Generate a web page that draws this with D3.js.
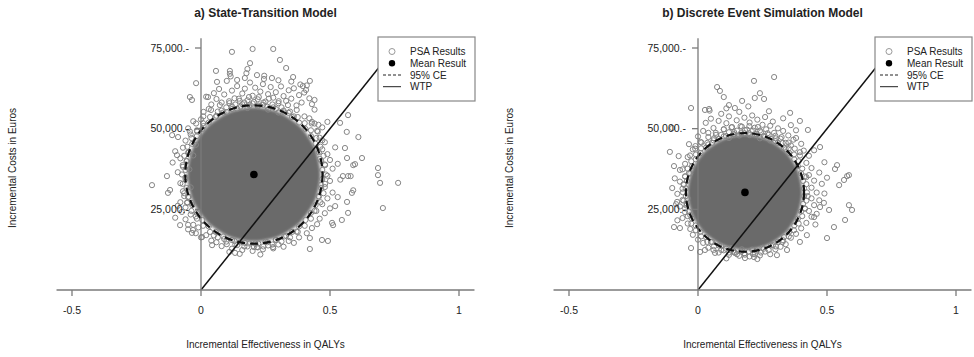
<!DOCTYPE html>
<html>
<head>
<meta charset="utf-8">
<script src="https://cdn.jsdelivr.net/npm/d3@7"></script>
<style>
  html, body { margin: 0; padding: 0; background: #fff; }
  svg { display: block; font-family: "Liberation Sans", Arial, sans-serif; }
</style>
</head>
<body>
<svg id="chart" width="974" height="357"></svg>
<script>
// Incremental QALYs (x) and incremental costs in thousand euros (y).
const titles = ["a) State-Transition Model", "b) Discrete Event Simulation Model"];
const xTicks = [-0.5, 0, 0.5, 1];
const xTickLabels = ["-0.5", "0", "0.5", "1"];
const yTicks = [25, 50, 75];
const yTickLabels = ["25,000.-", "50,000.-", "75,000.-"];
const legendLabels = ["PSA Results", "Mean Result", "95% CE", "WTP"];
const wtpPerQaly = 100; // k€ per QALY

// State-transition model
const meanA = [0.205, 35.8];
const ceRadiusA = [0.266, 21.45];
// outline of the dense bulk of PSA runs
const coreA = [[0.463,35.8],[0.443,43.8],[0.387,50.5],[0.304,55.0],[0.205,56.6],[0.106,55.0],[0.023,50.5],[-0.033,43.8],
  [-0.053,35.8],[-0.033,27.8],[0.023,21.1],[0.106,16.6],[0.205,15.0],[0.304,16.6],[0.387,21.1],[0.443,27.8]];
// individually visible PSA runs
const psaA = [
  [0.120,73.8],[0.200,74.7],[0.280,74.7],[0.306,71.3],[0.190,70.3],[0.330,68.8],[0.180,68.5],[0.176,67.2],[0.058,67.9],
  [0.112,67.9],[0.112,67.0],[0.217,66.6],[0.244,65.4],[0.275,65.7],[0.357,66.0],[-0.019,64.1],[0.062,64.5],[0.140,65.1],
  [-0.043,59.8],[-0.035,58.9],[0.027,59.8],[0.422,64.8],[0.395,63.2],[0.407,62.0],[0.440,58.9],[0.570,54.2],[0.539,51.8],
  [0.610,47.4],[0.565,49.0],[0.490,52.1],[-0.112,48.0],[-0.089,47.4],[-0.093,41.8],[-0.132,35.3],[0.558,44.0],[0.566,40.9],
  [0.590,38.7],[0.597,39.0],[0.686,37.8],[0.686,35.6],[0.624,40.9],[-0.190,32.5],[-0.128,30.1],[0.694,33.2],[0.764,33.2],
  [0.705,25.4],[0.550,35.3],[0.570,35.3],[0.580,35.3],[0.585,30.1],[0.566,27.3],[0.570,23.9],[0.546,21.7],[0.508,20.8],
  [0.512,20.1],[0.422,16.1],[0.422,12.7],[0.469,15.5],[0.492,15.2],[-0.035,17.7],[0.043,13.9],[0.004,16.4],[0.132,11.5],
  [0.217,13.3],[0.279,13.3],[-0.074,24.2],[-0.081,20.1],[-0.054,27.0],[-0.050,20.2],[-0.031,18.6],[0.590,30.9],
  [0.04,57.5],[0.06,59.2],[0.08,58.1],[0.09,60.6],[0.11,57.9],[0.12,61.8],[0.13,59.4],[0.14,63.2],[0.15,58.6],[0.16,60.9],
  [0.17,62.4],[0.18,58.8],[0.19,64.3],[0.20,60.2],[0.21,62.7],[0.22,59.1],[0.23,61.5],[0.24,63.8],[0.25,58.4],[0.26,60.7],
  [0.27,62.9],[0.28,59.6],[0.29,61.3],[0.30,57.9],[0.31,63.1],[0.32,60.1],[0.33,58.6],[0.34,61.9],[0.35,59.3],[0.36,62.5],
  [0.37,57.2],[0.38,60.4],[0.39,58.1],[0.40,61.2],[0.07,62.3],[0.10,64.8],[0.05,61.0],[0.02,59.9],[0.03,56.1],[0.01,55.2],
  [0.115,66.2],[0.17,65.7],[0.245,66.4],[0.30,65.0],[0.35,64.6],[0.385,63.7],[0.41,63.4],[0.42,59.4],[0.43,57.6],[0.44,55.9],
  [0.08,55.6],[0.12,56.9],[0.16,57.6],[0.20,57.8],[0.24,57.4],[0.28,56.6],[0.32,55.6],[0.36,53.8],[0.14,56.2],[0.18,56.4],
  [0.22,56.9],[0.26,55.9],[0.30,55.0],[0.10,55.1],[0.06,54.0],[0.34,54.9],
  [-0.03,52.3],[-0.05,50.1],[-0.04,48.2],[-0.06,46.3],[-0.07,44.1],[-0.05,42.6],[-0.08,40.8],[-0.07,38.2],[-0.09,36.5],
  [-0.06,34.9],[-0.08,33.1],[-0.07,30.6],[-0.05,28.8],[-0.08,27.2],[-0.06,25.6],[-0.04,23.4],[-0.06,21.9],[-0.03,20.2],
  [-0.05,18.8],[-0.02,17.6],[0.00,16.3],[-0.01,19.4],[-0.02,45.0],[-0.03,41.7],[-0.045,37.4],[-0.04,31.8],[-0.035,26.9],
  [-0.02,22.8],[-0.10,43.0],[-0.11,39.5],[-0.12,31.0],[-0.09,26.1],[-0.10,22.4],[0.00,52.9],[0.01,50.8],[-0.015,49.1],
  [-0.055,39.9],[-0.065,29.1],
  [0.02,17.0],[0.04,15.3],[0.06,14.8],[0.08,13.6],[0.10,14.2],[0.12,12.8],[0.14,13.9],[0.16,12.4],[0.18,13.5],[0.20,12.1],
  [0.22,13.2],[0.24,12.6],[0.26,13.8],[0.28,12.9],[0.30,14.1],[0.32,13.4],[0.34,15.2],[0.36,14.6],[0.38,16.3],[0.05,16.9],
  [0.09,15.8],[0.13,15.2],[0.17,14.6],[0.21,14.4],[0.25,15.0],[0.29,15.6],[0.33,16.8],[0.37,18.1],[0.15,11.2],[0.23,11.0],
  [0.11,11.8],
  [0.42,53.2],[0.44,51.6],[0.45,49.3],[0.47,50.4],[0.46,47.2],[0.48,45.8],[0.47,43.6],[0.49,42.1],[0.50,40.3],[0.48,38.9],
  [0.51,37.6],[0.49,35.4],[0.50,33.8],[0.48,31.9],[0.51,30.2],[0.49,28.4],[0.47,26.6],[0.50,25.3],[0.48,23.8],[0.46,22.1],
  [0.45,20.4],[0.43,19.2],[0.41,17.6],[0.52,44.2],[0.53,39.1],[0.54,34.2],[0.53,28.8],[0.52,26.0],[0.46,40.6],[0.465,32.6],
  [0.455,29.1],[0.44,24.5],[0.47,46.4],[0.43,52.1],[0.455,51.2]
];
// tightly packed runs along the edge of the bulk
const psaEdgeA = [
  [0.484,35.8],[0.481,38.7],[0.475,41.6],[0.463,44.4],[0.447,47.1],[0.426,49.5],[0.402,51.7],[0.375,53.6],[0.345,55.3],
  [0.312,56.6],[0.277,57.5],[0.242,58.1],[0.205,58.3],[0.168,58.1],[0.133,57.5],[0.098,56.6],[0.065,55.3],[0.035,53.6],
  [0.008,51.7],[-0.016,49.5],[-0.037,47.1],[-0.053,44.4],[-0.065,41.6],[-0.071,38.7],[-0.074,35.8],[-0.071,32.9],
  [-0.065,30.0],[-0.053,27.2],[-0.037,24.5],[-0.016,22.1],[0.008,19.9],[0.035,18.0],[0.065,16.3],[0.098,15.0],[0.133,14.1],
  [0.168,13.5],[0.205,13.3],[0.242,13.5],[0.277,14.1],[0.312,15.0],[0.345,16.3],[0.375,18.0],[0.402,19.9],[0.426,22.1],
  [0.447,24.5],[0.463,27.2],[0.475,30.0],[0.481,32.9],
  [0.470,37.2],[0.466,40.0],[0.457,42.7],[0.444,45.3],[0.426,47.7],[0.405,49.9],[0.380,51.9],[0.353,53.6],[0.323,55.0],
  [0.290,56.1],[0.257,56.8],[0.222,57.2],[0.188,57.2],[0.153,56.8],[0.120,56.1],[0.087,55.0],[0.057,53.6],[0.030,51.9],
  [0.005,49.9],[-0.016,47.7],[-0.034,45.3],[-0.047,42.7],[-0.056,40.0],[-0.060,37.2],[-0.060,34.4],[-0.056,31.6],
  [-0.047,28.9],[-0.034,26.3],[-0.016,23.9],[0.005,21.7],[0.030,19.7],[0.057,18.0],[0.087,16.6],[0.120,15.5],[0.153,14.8],
  [0.188,14.4],[0.222,14.4],[0.257,14.8],[0.290,15.5],[0.323,16.6],[0.353,18.0],[0.380,19.7],[0.405,21.7],[0.426,23.9],
  [0.444,26.3],[0.457,28.9],[0.466,31.6],[0.470,34.4],
  [0.453,49.1],[0.429,51.6],[0.401,53.8],[0.371,55.8],[0.337,57.3],[0.301,58.5],[0.263,59.3],[0.224,59.8],[0.186,59.8],
  [0.147,59.3],[0.109,58.5],[0.073,57.3],[0.039,55.8],[0.009,53.8],[-0.019,51.6],[-0.043,49.1]
];

// Discrete event simulation model
const meanB = [0.182, 30.25];
const ceRadiusB = [0.229, 18.4];
const coreB = [[0.404,30.25],[0.387,37.1],[0.339,42.9],[0.267,46.7],[0.182,48.1],[0.097,46.7],[0.025,42.9],[-0.023,37.1],
  [-0.040,30.25],[-0.023,23.4],[0.025,17.6],[0.097,13.8],[0.182,12.4],[0.267,13.8],[0.339,17.6],[0.387,23.4]];
const psaB = [
  [0.295,66.0],[0.217,64.8],[0.074,62.9],[0.085,61.7],[0.100,59.8],[0.240,61.0],[0.220,59.5],[0.256,59.2],[0.171,58.6],
  [-0.027,56.4],[0.027,55.8],[0.043,56.1],[0.120,57.3],[0.143,56.4],[0.357,54.9],[0.395,52.4],[0.426,49.6],[-0.100,50.2],
  [-0.109,42.8],[-0.093,38.4],[-0.070,37.2],[0.539,38.7],[0.531,37.5],[0.585,35.6],[0.473,44.3],[0.578,35.3],[0.566,34.1],
  [0.547,32.5],[0.585,26.3],[0.597,24.8],[0.570,21.7],[0.527,19.5],[0.500,16.1],[0.508,24.8],[0.488,27.0],[-0.100,31.6],
  [-0.093,19.5],[-0.070,19.2],[-0.081,27.3],[-0.027,13.0],[0.008,11.8],[0.027,12.4],[0.066,11.5],[0.143,11.5],[0.182,9.9],
  [0.217,10.2],[0.306,10.8],[0.345,12.4],[0.395,14.9],[0.422,17.0],[0.473,25.7],[0.450,22.6],
  [0.00,47.6],[0.02,49.3],[0.03,51.8],[0.04,48.7],[0.05,53.1],[0.06,50.2],[0.07,48.1],[0.08,52.4],[0.09,54.6],[0.10,49.8],
  [0.11,51.7],[0.12,53.8],[0.13,50.4],[0.14,48.9],[0.15,52.6],[0.16,55.2],[0.17,50.6],[0.18,53.4],[0.19,49.7],[0.20,51.9],
  [0.21,54.1],[0.22,50.3],[0.23,52.8],[0.24,49.4],[0.25,51.2],[0.26,53.6],[0.27,48.6],[0.28,50.9],[0.29,52.2],[0.30,47.8],
  [0.31,50.1],[0.32,46.9],[0.33,49.3],[0.34,45.6],[0.35,47.9],[0.36,44.8],[0.37,46.6],[0.01,45.9],[-0.01,44.6],[0.045,55.6],
  [0.11,56.3],[0.195,56.9],[0.275,55.4],[0.33,53.2],[0.36,51.1],[0.38,49.5],
  [0.06,46.4],[0.10,47.6],[0.14,48.2],[0.18,48.6],[0.22,48.3],[0.26,47.5],[0.30,46.1],[0.12,47.1],[0.16,47.9],[0.20,48.0],
  [0.24,47.0],[0.28,46.3],[0.04,45.1],[0.34,43.6],
  [-0.02,43.6],[-0.04,41.2],[-0.05,39.1],[-0.06,37.4],[-0.05,35.2],[-0.07,33.6],[-0.06,31.4],[-0.08,29.8],[-0.06,27.9],
  [-0.07,25.9],[-0.05,24.1],[-0.06,22.3],[-0.04,20.6],[-0.03,18.9],[-0.02,17.1],[0.00,15.6],[-0.03,36.1],[-0.04,28.4],
  [-0.03,23.2],[-0.09,34.6],[-0.085,26.6],[-0.08,21.6],[-0.035,45.2],[-0.075,41.5],[-0.055,32.6],[-0.045,26.2],
  [0.02,14.6],[0.04,13.1],[0.06,12.4],[0.08,11.6],[0.10,12.3],[0.12,10.9],[0.14,11.7],[0.16,10.6],[0.18,11.4],[0.20,10.4],
  [0.22,11.2],[0.24,10.7],[0.26,11.9],[0.28,11.1],[0.30,12.6],[0.32,13.4],[0.34,14.2],[0.05,14.9],[0.09,13.7],[0.13,13.0],
  [0.17,12.6],[0.21,12.5],[0.25,13.1],[0.29,13.9],[0.33,15.4],[0.36,16.2],[0.11,9.8],[0.23,9.6],
  [0.38,47.1],[0.40,45.3],[0.41,43.2],[0.43,41.6],[0.42,39.4],[0.44,37.8],[0.43,35.6],[0.45,33.9],[0.44,31.7],[0.46,30.2],
  [0.44,28.4],[0.45,26.3],[0.43,24.5],[0.44,22.7],[0.42,20.8],[0.40,19.1],[0.38,17.4],[0.47,36.4],[0.48,32.9],[0.47,27.8],
  [0.46,23.6],[0.42,35.0],[0.425,29.1],[0.415,25.2],[0.395,42.7],[0.49,39.6],[0.50,34.8],[0.49,29.9],[0.45,43.3],[0.455,20.3]
];
const psaEdgeB = [
  [0.422,30.25],[0.420,32.8],[0.414,35.2],[0.404,37.6],[0.390,39.9],[0.372,42.0],[0.352,43.9],[0.328,45.6],[0.302,47.0],
  [0.274,48.1],[0.244,48.9],[0.213,49.4],[0.182,49.55],[0.151,49.4],[0.120,48.9],[0.090,48.1],[0.062,47.0],[0.036,45.6],
  [0.012,43.9],[-0.008,42.0],[-0.026,39.9],[-0.040,37.6],[-0.050,35.2],[-0.056,32.8],[-0.058,30.25],[-0.056,27.7],
  [-0.050,25.3],[-0.040,22.9],[-0.026,20.6],[-0.008,18.5],[0.012,16.6],[0.036,14.9],[0.062,13.5],[0.090,12.4],[0.120,11.6],
  [0.151,11.1],[0.182,10.95],[0.213,11.1],[0.244,11.6],[0.274,12.4],[0.302,13.5],[0.328,14.9],[0.352,16.6],[0.372,18.5],
  [0.390,20.6],[0.404,22.9],[0.414,25.3],[0.420,27.7],
  [0.411,31.5],[0.407,33.8],[0.399,36.2],[0.387,38.4],[0.373,40.5],[0.354,42.4],[0.333,44.1],[0.309,45.6],[0.283,46.8],
  [0.255,47.7],[0.227,48.3],[0.197,48.6],[0.167,48.6],[0.137,48.3],[0.109,47.7],[0.081,46.8],[0.055,45.6],[0.031,44.1],
  [0.010,42.4],[-0.009,40.5],[-0.023,38.4],[-0.035,36.2],[-0.043,33.8],[-0.047,31.5],[-0.047,29.1],[-0.043,26.7],
  [-0.035,24.3],[-0.023,22.1],[-0.009,20.0],[0.010,18.1],[0.031,16.4],[0.055,14.9],[0.081,13.8],[0.109,12.8],[0.137,12.2],
  [0.167,11.9],[0.197,11.9],[0.227,12.2],[0.255,12.8],[0.283,13.8],[0.309,14.9],[0.333,16.4],[0.354,18.1],[0.373,20.0],
  [0.387,22.1],[0.399,24.3],[0.407,26.7],[0.411,29.1],
  [0.395,41.7],[0.375,43.8],[0.351,45.7],[0.324,47.4],[0.295,48.7],[0.264,49.8],[0.232,50.5],[0.199,50.8],[0.165,50.8],
  [0.132,50.5],[0.100,49.8],[0.069,48.7],[0.040,47.4],[0.013,45.7],[-0.011,43.8],[-0.031,41.7]
];

const panels = [
  { title: titles[0], mean: meanA, ce: ceRadiusA, core: coreA, psa: psaA.concat(psaEdgeA), offset: 0 },
  { title: titles[1], mean: meanB, ce: ceRadiusB, core: coreB, psa: psaB.concat(psaEdgeB), offset: 497 }
];

const svg = d3.select("#chart");
const textColor = "#222";
const axisColor = "#7a7a7a";
const pointColor = "#858585";

// soft edge for the packed bulk of runs
const defs = svg.append("defs");
defs.append("filter").attr("id", "soft")
  .attr("x", "-10%").attr("y", "-10%").attr("width", "120%").attr("height", "120%")
  .append("feGaussianBlur").attr("stdDeviation", 1.6);

panels.forEach((p, i) => {
  const x = d3.scaleLinear().domain([-0.5, 1]).range([72 + p.offset, 459 + p.offset]);
  const y = d3.scaleLinear().domain([0, 75]).range([290, 48]);
  const g = svg.append("g");

  const clipId = "plot-clip-" + i;
  defs.append("clipPath").attr("id", clipId)
    .append("rect")
    .attr("x", x(-0.56)).attr("y", y(78))
    .attr("width", x(1.06) - x(-0.56)).attr("height", y(0) - y(78));

  const plot = g.append("g").attr("clip-path", `url(#${clipId})`);

  // dense bulk of the simulation runs
  plot.append("path")
    .datum(p.core)
    .attr("d", d3.line().x(d => x(d[0])).y(d => y(d[1])).curve(d3.curveCardinalClosed.tension(0.2)))
    .attr("fill", "#6b6b6b")
    .attr("filter", "url(#soft)");

  // individual PSA runs as open circles
  plot.append("g").selectAll("circle")
    .data(p.psa)
    .join("circle")
    .attr("cx", d => x(d[0]))
    .attr("cy", d => y(d[1]))
    .attr("r", 2.6)
    .attr("fill", "none")
    .attr("stroke", pointColor)
    .attr("stroke-width", 1);

  // axes through the origin
  g.append("line")
    .attr("x1", x(-0.56)).attr("x2", x(1.06))
    .attr("y1", y(0)).attr("y2", y(0))
    .attr("stroke", axisColor).attr("stroke-width", 1.3);
  g.append("line")
    .attr("x1", x(0)).attr("x2", x(0))
    .attr("y1", y(78)).attr("y2", y(0))
    .attr("stroke", axisColor).attr("stroke-width", 1.3);

  // x ticks
  xTicks.forEach((t, k) => {
    g.append("line")
      .attr("x1", x(t)).attr("x2", x(t))
      .attr("y1", y(0)).attr("y2", y(0) + 6)
      .attr("stroke", axisColor).attr("stroke-width", 1.3);
    g.append("text")
      .attr("x", x(t)).attr("y", 314)
      .attr("text-anchor", "middle")
      .attr("font-size", 10.5).attr("fill", textColor)
      .text(xTickLabels[k]);
  });

  // y ticks
  yTicks.forEach((t, k) => {
    g.append("line")
      .attr("x1", x(0) - 6).attr("x2", x(0))
      .attr("y1", y(t)).attr("y2", y(t))
      .attr("stroke", axisColor).attr("stroke-width", 1.3);
    g.append("text")
      .attr("x", x(0) - 12).attr("y", y(t) + 3.8)
      .attr("text-anchor", "end")
      .attr("font-size", 10.5).attr("fill", textColor)
      .text(yTickLabels[k]);
  });

  // willingness-to-pay threshold
  plot.append("line")
    .attr("x1", x(0)).attr("y1", y(0))
    .attr("x2", x(0.8)).attr("y2", y(0.8 * wtpPerQaly))
    .attr("stroke", "#111").attr("stroke-width", 1.5);

  // 95% confidence ellipse
  plot.append("ellipse")
    .attr("cx", x(p.mean[0])).attr("cy", y(p.mean[1]))
    .attr("rx", x(p.mean[0] + p.ce[0]) - x(p.mean[0]))
    .attr("ry", y(p.mean[1] - p.ce[1]) - y(p.mean[1]))
    .attr("fill", "none")
    .attr("stroke", "#111").attr("stroke-width", 2.2)
    .attr("stroke-dasharray", "8,5");

  // mean result
  g.append("circle")
    .attr("cx", x(p.mean[0])).attr("cy", y(p.mean[1]))
    .attr("r", 3.8).attr("fill", "#000");

  // titles and axis labels
  g.append("text")
    .attr("x", x(0.25)).attr("y", 17)
    .attr("text-anchor", "middle")
    .attr("font-size", 12).attr("font-weight", "bold").attr("fill", textColor)
    .text(p.title);
  g.append("text")
    .attr("x", x(0.25)).attr("y", 348)
    .attr("text-anchor", "middle")
    .attr("font-size", 10).attr("fill", textColor)
    .text("Incremental Effectiveness in QALYs");
  g.append("text")
    .attr("transform", `translate(${16 + p.offset},168) rotate(-90)`)
    .attr("text-anchor", "middle")
    .attr("font-size", 10).attr("fill", textColor)
    .text("Incremental Costs in Euros");

  // legend
  const lx = 378 + p.offset, ly = 37;
  const lg = g.append("g");
  lg.append("rect")
    .attr("x", lx).attr("y", ly).attr("width", 97).attr("height", 64)
    .attr("fill", "#fff").attr("stroke", "#888").attr("stroke-width", 1.2);
  const rowY = [51.5, 63.3, 75, 86.7];
  lg.append("circle").attr("cx", lx + 14).attr("cy", rowY[0]).attr("r", 3)
    .attr("fill", "none").attr("stroke", "#999").attr("stroke-width", 1);
  lg.append("circle").attr("cx", lx + 14).attr("cy", rowY[1]).attr("r", 3.2).attr("fill", "#000");
  lg.append("line").attr("x1", lx + 5).attr("x2", lx + 23).attr("y1", rowY[2]).attr("y2", rowY[2])
    .attr("stroke", "#222").attr("stroke-width", 1).attr("stroke-dasharray", "3,2");
  lg.append("line").attr("x1", lx + 5).attr("x2", lx + 23).attr("y1", rowY[3]).attr("y2", rowY[3])
    .attr("stroke", "#222").attr("stroke-width", 1);
  legendLabels.forEach((t, k) => {
    lg.append("text")
      .attr("x", lx + 32).attr("y", rowY[k] + 3.6)
      .attr("font-size", 10).attr("fill", textColor)
      .text(t);
  });
});
</script>
</body>
</html>
